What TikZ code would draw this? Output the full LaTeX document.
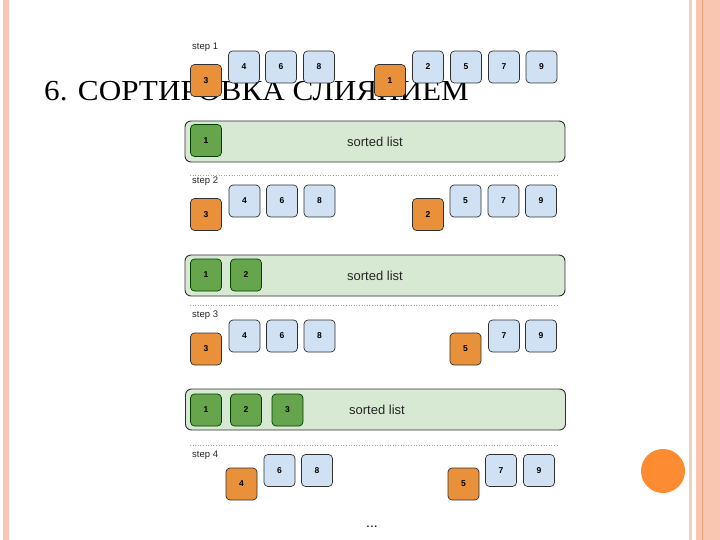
\documentclass[tikz,border=0pt]{standalone}
\usepackage{fontspec}
\setmainfont{Liberation Serif}
\newfontfamily\diagfont{Liberation Sans}
\usetikzlibrary{positioning}
\definecolor{stripe}{HTML}{F8C6B1}
\definecolor{stripedark}{HTML}{EFA27A}
\definecolor{stripelight}{HTML}{F3CDBD}
\definecolor{cellblue}{HTML}{CFE1F3}
\definecolor{cellorange}{HTML}{E8913A}
\definecolor{cellgreen}{HTML}{67A54C}
\definecolor{barfill}{HTML}{D7E9D3}
\definecolor{celledge}{HTML}{303030}
\definecolor{dotgray}{HTML}{A0A0A0}
\definecolor{circorange}{HTML}{FD8B32}
\tikzset{
  cell/.style={draw=celledge, line width=0.7pt, rounded corners=4pt,
    minimum width=31pt, minimum height=32pt, inner sep=0pt,
    font=\diagfont\bfseries\fontsize{8.5}{9}\selectfont},
  bluecell/.style={cell, fill=cellblue},
  orangecell/.style={cell, fill=cellorange},
  greencell/.style={cell, fill=cellgreen, draw=black!75!green},
  sortbar/.style={draw=celledge, line width=0.9pt, rounded corners=6pt, fill=barfill,
    minimum width=380pt, minimum height=41pt, inner sep=0pt},
  bartext/.style={font=\diagfont\fontsize{13}{14}\selectfont, text=black!85},
  steplabel/.style={font=\diagfont\fontsize{9.5}{10}\selectfont, anchor=west, inner sep=0pt, text=black!85},
  sepline/.style={draw=dotgray, line width=0.6pt, dotted}
}
\begin{document}
\begin{tikzpicture}[x=1pt,y=-1pt]
\useasboundingbox (0,0) rectangle (720,540);
% slide frame
\fill[stripe] (3,0) rectangle (9,540);
\fill[stripelight] (689,0) rectangle (692,540);
\fill[stripe] (696,0) rectangle (720,540);
\fill[stripedark] (701.8,0) rectangle (702.8,540);
\fill[circorange] (663,471) circle (22);
% title
\node[anchor=base west, inner sep=0pt, font=\fontsize{29}{32}\selectfont] (title) at (44,101) {\scalebox{1.075}[1]{6. СОРТИРОВКА СЛИЯНИЕМ}};
% step 1
\node[steplabel] (s1) at (192,47) {step 1};
\node[bluecell] (a4) at (244,67) {4};
\node[bluecell] (a6) at (281,67) {6};
\node[bluecell] (a8) at (319,67) {8};
\node[orangecell] (a3) at (206,80.5) {3};
\node[bluecell] (a2) at (428,67) {2};
\node[bluecell] (a5) at (466,67) {5};
\node[bluecell] (a7) at (504,67) {7};
\node[bluecell] (a9) at (541.5,67) {9};
\node[orangecell] (a1) at (390,80.5) {1};
\node[sortbar] (bar1) at (375,141.5) {};
\node[bartext] (t1) at (375,141.5) {sorted list};
\node[greencell] (g11) at (206,140.5) {1};
\coordinate (d1a) at (190,175); \coordinate (d1b) at (557,175);
\draw[sepline] (d1a) -- (d1b);
% step 2
\node[steplabel] (s2) at (192,181) {step 2};
\node[bluecell] (b4) at (244.5,201) {4};
\node[bluecell] (b6) at (282,201) {6};
\node[bluecell] (b8) at (319.5,201) {8};
\node[orangecell] (b3) at (206,214.5) {3};
\node[bluecell] (b5) at (465.5,201) {5};
\node[bluecell] (b7) at (503.5,201) {7};
\node[bluecell] (b9) at (541,201) {9};
\node[orangecell] (b2) at (428,214.5) {2};
\node[sortbar] (bar2) at (375,275.5) {};
\node[bartext] (t2) at (375,275.5) {sorted list};
\node[greencell] (g21) at (206,275) {1};
\node[greencell] (g22) at (246,275) {2};
\coordinate (d2a) at (190,305); \coordinate (d2b) at (557,305);
\draw[sepline] (d2a) -- (d2b);
% step 3
\node[steplabel] (s3) at (192,315) {step 3};
\node[bluecell] (c4) at (244.5,336) {4};
\node[bluecell] (c6) at (282,336) {6};
\node[bluecell] (c8) at (319.5,336) {8};
\node[orangecell] (c3) at (206,349) {3};
\node[bluecell] (c7) at (504,336) {7};
\node[bluecell] (c9) at (541,336) {9};
\node[orangecell] (c5) at (465.5,349) {5};
\node[sortbar] (bar3) at (375.5,409.5) {};
\node[bartext] (t3) at (377,410) {sorted list};
\node[greencell] (g31) at (206,410) {1};
\node[greencell] (g32) at (246,410) {2};
\node[greencell] (g33) at (287.5,410) {3};
\coordinate (d3a) at (190,445); \coordinate (d3b) at (557,445);
\draw[sepline] (d3a) -- (d3b);
% step 4
\node[steplabel] (s4) at (192,455) {step 4};
\node[bluecell] (e6) at (279.5,470.5) {6};
\node[bluecell] (e8) at (317,470.5) {8};
\node[orangecell] (e4) at (241.5,484) {4};
\node[bluecell] (e7) at (501,470.5) {7};
\node[bluecell] (e9) at (539,470.5) {9};
\node[orangecell] (e5) at (463.5,484) {5};
\node[font=\diagfont\fontsize{14}{15}\selectfont, inner sep=0pt] (dots) at (372,527) {...};
\end{tikzpicture}
\end{document}
